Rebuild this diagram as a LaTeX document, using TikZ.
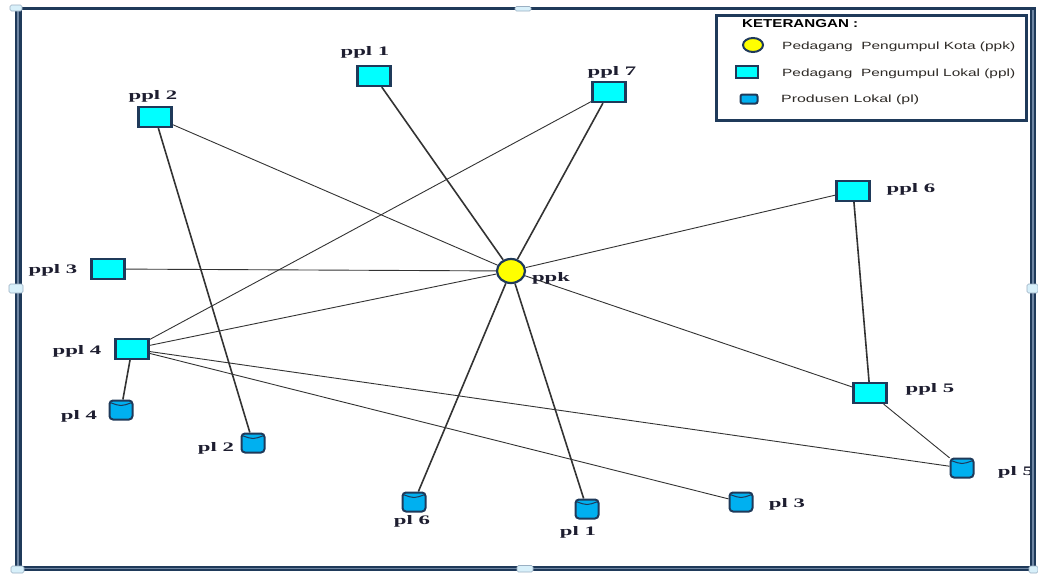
\documentclass[tikz,border=0pt]{standalone}
\usepackage{fontspec}
\usepackage{graphicx}
\setmainfont{Liberation Serif}
\newfontfamily\legendfont{Liberation Sans}
\usetikzlibrary{shapes.geometric,backgrounds}

\definecolor{navy}{HTML}{1F3A5A}
\definecolor{navystripe}{HTML}{6F86A3}
\definecolor{cyanfill}{HTML}{00FFFF}
\definecolor{bluefill}{HTML}{00B0F0}
\definecolor{hubfill}{HTML}{FFFF00}
\definecolor{linkcol}{HTML}{333333}
\definecolor{labelcol}{HTML}{1E1E30}
\definecolor{legendtext}{HTML}{2E2A26}
\definecolor{handlefill}{HTML}{D8F0FA}
\definecolor{handledraw}{HTML}{9AAFC2}

% horizontally stretched label text
\newcommand\widetext[1]{\scalebox{1.75}[1]{#1}}
% text stretched to a given width, height kept
\newcommand\fitwidth[2]{\resizebox{#1}{\height}{#2}}

\tikzset{
  collector/.style={rectangle, draw=navy, line width=2.2pt, fill=cyanfill,
    minimum width=33pt, minimum height=20pt, inner sep=0pt},
  producer/.style={rectangle, rounded corners=3.5pt, draw=navy, line width=2pt,
    fill=bluefill, minimum width=23pt, minimum height=19pt, inner sep=0pt},
  cylrim/.style={draw=navy, line width=1pt},
  hub/.style={ellipse, draw=navy, line width=2.2pt, fill=hubfill,
    minimum width=28pt, minimum height=24pt, inner sep=0pt},
  lbl/.style={font=\bfseries\fontsize{13}{13}\selectfont, text=labelcol, inner sep=0pt},
  boldlink/.style={draw=linkcol, line width=1.6pt},
  finelink/.style={draw=linkcol, line width=0.9pt},
  legtext/.style={font=\legendfont\fontsize{10.5}{12}\selectfont, text=legendtext,
    inner sep=0pt, anchor=west},
  handle/.style={draw=handledraw, line width=0.6pt, fill=handlefill, rounded corners=1.5pt},
  framestripe/.style={draw=navystripe, line width=1.1pt},
}

\begin{document}
\begin{tikzpicture}[x=1pt,y=-1pt]
\useasboundingbox (0,0) rectangle (1038,573);

% ---- nodes ----
\node[hub] (ppk) at (511,271) {};
\node[collector] (ppl1) at (374,76) {};
\node[collector] (ppl7) at (609,92) {};
\node[collector] (ppl2) at (155,117) {};
\node[collector] (ppl6) at (853,191) {};
\node[collector] (ppl3) at (108,269) {};
\node[collector] (ppl4) at (132,349) {};
\node[collector] (ppl5) at (870,393) {};
\node[producer] (pl4) at (121,410) {};
\node[producer] (pl2) at (253,443) {};
\node[producer] (pl6) at (414,502) {};
\node[producer] (pl1) at (587,509) {};
\node[producer] (pl3) at (741,502) {};
\node[producer] (pl5) at (962,468) {};

% front rim of each cylinder top
\foreach \n in {pl1,pl2,pl3,pl4,pl5,pl6}
  \draw[cylrim] ([xshift=1.5pt,yshift=-3pt]\n.north west)
    .. controls ([yshift=-7pt]\n.north) .. ([xshift=-1.5pt,yshift=-3pt]\n.north east);

% ---- labels ----
\node[lbl] (t-ppk) at (551,278) {\widetext{ppk}};
\node[lbl] (t-ppl1) at (365,52) {\widetext{ppl 1}};
\node[lbl] (t-ppl7) at (612,72) {\widetext{ppl 7}};
\node[lbl] (t-ppl2) at (153,96) {\widetext{ppl 2}};
\node[lbl] (t-ppl6) at (911,189) {\widetext{ppl 6}};
\node[lbl] (t-ppl3) at (53,270) {\widetext{ppl 3}};
\node[lbl] (t-ppl4) at (77,351) {\widetext{ppl 4}};
\node[lbl] (t-ppl5) at (930,389) {\widetext{ppl 5}};
\node[lbl] (t-pl4) at (79,416) {\widetext{pl 4}};
\node[lbl] (t-pl2) at (216,448) {\widetext{pl 2}};
\node[lbl] (t-pl6) at (412,521) {\widetext{pl 6}};
\node[lbl] (t-pl1) at (578,532) {\widetext{pl 1}};
\node[lbl] (t-pl3) at (787,504) {\widetext{pl 3}};
\node[lbl] (t-pl5) at (1016,472) {\widetext{pl 5}};

% ---- connectors (behind the nodes) ----
\begin{scope}[on background layer]
  \fill[white] (0,0) rectangle (1038,573);
  \draw[boldlink] (ppk) -- (ppl1);
  \draw[boldlink] (ppk) -- (ppl7);
  \draw[boldlink] (ppk) -- (pl6);
  \draw[boldlink] (ppk) -- (pl1);
  \draw[finelink] (ppk) -- (ppl2);
  \draw[finelink] (ppk) -- (ppl3);
  \draw[finelink] (ppk) -- (ppl4);
  \draw[finelink] (ppk) -- (ppl6);
  \draw[finelink] (ppk) -- (ppl5);
  \draw[finelink] (ppl7) -- (ppl4);
  \draw[boldlink] (ppl2) -- (pl2);
  \draw[boldlink] (ppl6) -- (ppl5);
  \draw[finelink] (ppl5) -- (pl5);
  \draw[boldlink] (ppl4) -- (pl4);
  \draw[finelink] (ppl4) -- (pl3);
  \draw[finelink] (ppl4) -- (pl5);
\end{scope}

% ---- legend ----
\draw[navy, line width=3pt, fill=white] (716,15) rectangle (1026,120);
\node[legtext, font=\legendfont\bfseries\fontsize{11.5}{12}\selectfont, text=black]
  (leg-title) at (742,24) {\fitwidth{116pt}{KETERANGAN :}};
\node[ellipse, draw=navy, line width=2pt, fill=hubfill, minimum width=20pt,
  minimum height=14pt, inner sep=0pt] (leg-ppk) at (753,45) {};
\node[rectangle, draw=navy, line width=2pt, fill=cyanfill, minimum width=22pt,
  minimum height=12pt, inner sep=0pt] (leg-ppl) at (747,72) {};
\node[rectangle, rounded corners=2pt, draw=navy, line width=2pt, fill=bluefill,
  minimum width=17pt, minimum height=9pt, inner sep=0pt] (leg-pl) at (749,99) {};
\node[legtext] (leg-ppk-t) at (782,47) {\fitwidth{233pt}{Pedagang\ \ Pengumpul Kota (ppk)}};
\node[legtext] (leg-ppl-t) at (782,74) {\fitwidth{233pt}{Pedagang\ \ Pengumpul Lokal (ppl)}};
\node[legtext] (leg-pl-t) at (781,100) {\fitwidth{138pt}{Produsen Lokal (pl)}};

% ---- outer frame ----
\draw[navy, line width=3pt] (14,8.5) -- (1036,8.5);
\draw[navy, line width=7pt] (18,8) -- (18,570);
\draw[framestripe] (18,10) -- (18,568);
\draw[navy, line width=5.5pt] (1033,8) -- (1033,570);
\draw[framestripe] (1033,10) -- (1033,568);
\draw[navy, line width=5pt] (15,568.5) -- (1036,568.5);
\draw[framestripe] (20,568.5) -- (1031,568.5);

% frame handles
\draw[handle] (9,284) rectangle (23,293);
\draw[handle] (1027,284) rectangle (1038,293);
\draw[handle] (515,6.5) rectangle (531,11);
\draw[handle] (517,565.5) rectangle (533,572);
\draw[handle] (10,5) rectangle (22,11);
\draw[handle] (11,566) rectangle (24,573);
\draw[handle] (1029,566) rectangle (1038,573);
\end{tikzpicture}
\end{document}
